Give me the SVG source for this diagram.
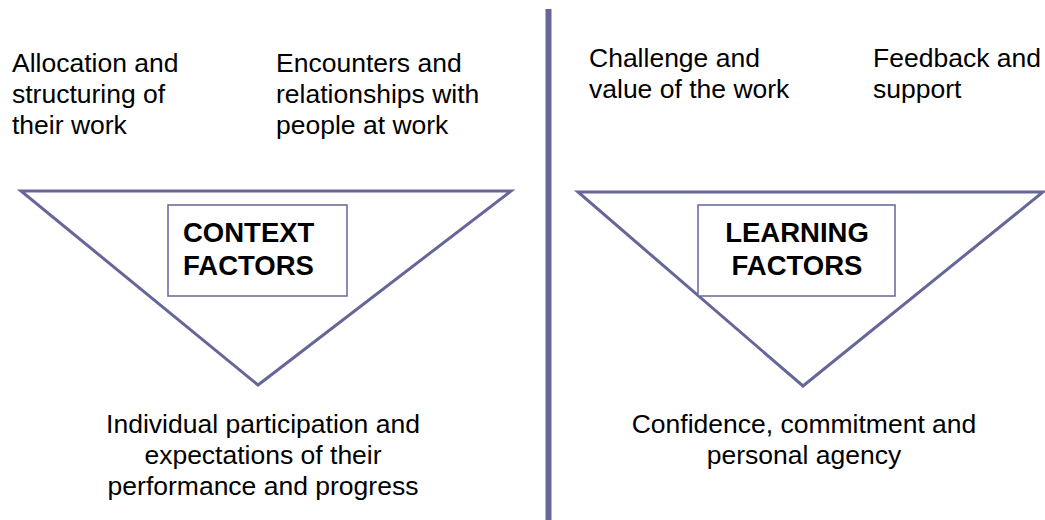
<svg xmlns="http://www.w3.org/2000/svg" width="1045" height="520" viewBox="0 0 1045 520">
<style>
.tri{fill:none;stroke:#666699;stroke-width:3;stroke-linejoin:miter}
.box{fill:#ffffff;stroke:#666699;stroke-width:1.5}
.div{stroke:#666699;stroke-width:6}
text{font-family:"Liberation Sans",Arial,sans-serif;fill:#000000}
.t{font-size:26.5px}
.b{font-size:27.5px;font-weight:bold}
</style>
<rect width="1045" height="520" fill="#ffffff"/>
<g id="connectors">
<line class="div" x1="548.5" y1="9" x2="548.5" y2="520"/>
</g>
<g id="context-triangle">
<polygon class="tri" points="21,191 511,191 258,385"/>
</g>
<g id="learning-triangle">
<polygon class="tri" points="578,192 1043,192 803,386"/>
</g>
<g id="context-box">
<rect class="box" x="168" y="205" width="179" height="91"/>
<text class="b" x="183" y="242">CONTEXT</text>
<text class="b" x="183" y="275">FACTORS</text>
</g>
<g id="learning-box">
<rect class="box" x="698" y="205" width="197" height="91"/>
<text class="b" x="797" y="242" text-anchor="middle">LEARNING</text>
<text class="b" x="797" y="275" text-anchor="middle">FACTORS</text>
</g>
<g id="allocation">
<text class="t" x="12" y="72">Allocation and</text>
<text class="t" x="12" y="103">structuring of</text>
<text class="t" x="12" y="134">their work</text>
</g>
<g id="encounters">
<text class="t" x="276" y="72">Encounters and</text>
<text class="t" x="276" y="103">relationships with</text>
<text class="t" x="276" y="134">people at work</text>
</g>
<g id="challenge">
<text class="t" x="589" y="67">Challenge and</text>
<text class="t" x="589" y="98">value of the work</text>
</g>
<g id="feedback">
<text class="t" x="873" y="67">Feedback and</text>
<text class="t" x="873" y="98">support</text>
</g>
<g id="individual">
<text class="t" x="263" y="433" text-anchor="middle">Individual participation and</text>
<text class="t" x="263" y="464" text-anchor="middle">expectations of their</text>
<text class="t" x="263" y="495" text-anchor="middle">performance and progress</text>
</g>
<g id="confidence">
<text class="t" x="804" y="433" text-anchor="middle">Confidence, commitment and</text>
<text class="t" x="804" y="464" text-anchor="middle">personal agency</text>
</g>
</svg>
